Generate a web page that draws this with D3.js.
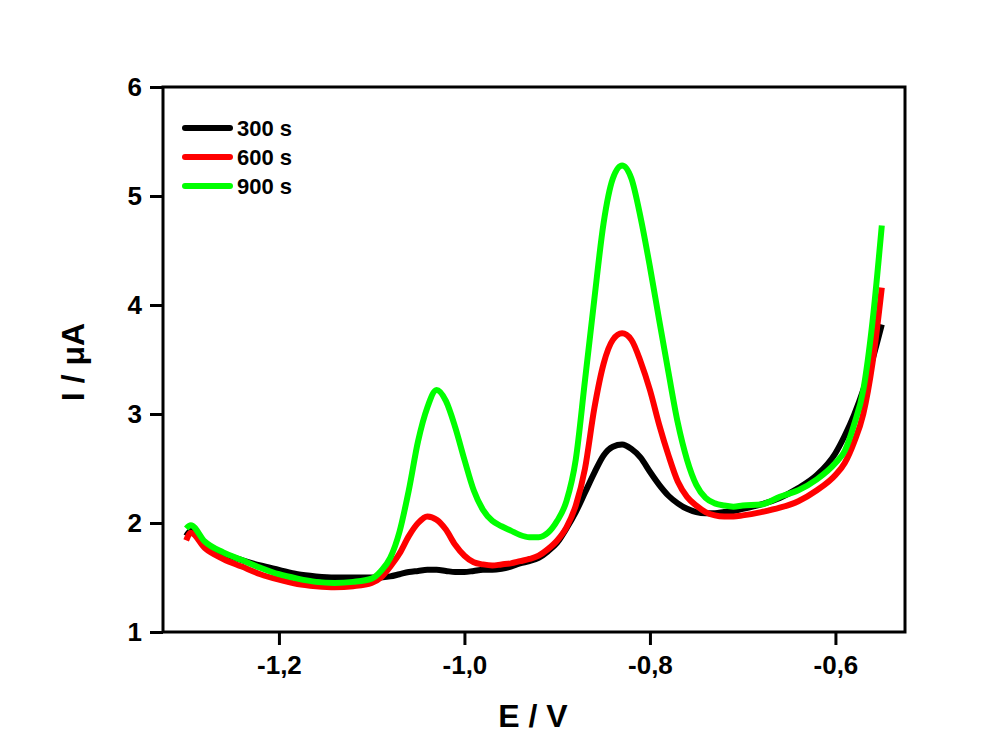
<!DOCTYPE html>
<html lang="en">
<head>
<meta charset="utf-8" />
<title>I vs E</title>
<script src="https://cdn.jsdelivr.net/npm/d3@7"></script>
<style>
  body { margin: 0; background: #fff; }
  text { font-family: "Liberation Sans", Arial, sans-serif; font-weight: bold; }
</style>
</head>
<body>
<script>
// potential (V), shared by all three curves
var potential = [-1.30, -1.295, -1.28, -1.26, -1.24, -1.22, -1.20, -1.18, -1.16, -1.14, -1.12, -1.10,
  -1.09, -1.08, -1.07, -1.06, -1.05, -1.04, -1.03, -1.02, -1.01, -1.00, -0.99, -0.98, -0.97, -0.96,
  -0.95, -0.94, -0.93, -0.92, -0.91, -0.90, -0.89, -0.88, -0.87, -0.86, -0.85, -0.84, -0.83, -0.82,
  -0.81, -0.80, -0.79, -0.78, -0.77, -0.76, -0.75, -0.74, -0.73, -0.72, -0.71, -0.70, -0.68, -0.66,
  -0.64, -0.62, -0.60, -0.59, -0.58, -0.57, -0.56, -0.55];

// current (uA)
var i300 = [1.88, 1.93, 1.81, 1.72, 1.66, 1.61, 1.57, 1.53, 1.51, 1.50, 1.50, 1.50,
  1.50, 1.51, 1.53, 1.55, 1.56, 1.57, 1.57, 1.56, 1.55, 1.55, 1.56, 1.57, 1.57, 1.58,
  1.60, 1.63, 1.65, 1.68, 1.74, 1.82, 1.95, 2.10, 2.28, 2.46, 2.62, 2.70, 2.72, 2.68,
  2.60, 2.47, 2.35, 2.25, 2.18, 2.13, 2.10, 2.09, 2.09, 2.10, 2.11, 2.13, 2.17, 2.23,
  2.32, 2.44, 2.64, 2.80, 2.99, 3.22, 3.50, 3.82];

var i600 = [1.84, 1.91, 1.77, 1.67, 1.60, 1.53, 1.48, 1.44, 1.42, 1.41, 1.42, 1.45,
  1.50, 1.60, 1.72, 1.88, 2.00, 2.06, 2.03, 1.94, 1.80, 1.70, 1.64, 1.62, 1.61, 1.62,
  1.63, 1.65, 1.67, 1.70, 1.76, 1.84, 1.96, 2.16, 2.50, 3.05, 3.46, 3.68, 3.74, 3.68,
  3.48, 3.22, 2.90, 2.62, 2.38, 2.24, 2.16, 2.10, 2.07, 2.06, 2.06, 2.07, 2.10, 2.14,
  2.20, 2.30, 2.44, 2.55, 2.74, 3.00, 3.47, 4.16];

var i900 = [1.95, 1.98, 1.83, 1.73, 1.66, 1.59, 1.53, 1.49, 1.46, 1.45, 1.46, 1.49,
  1.56, 1.68, 1.92, 2.30, 2.75, 3.06, 3.22, 3.12, 2.88, 2.58, 2.30, 2.12, 2.02, 1.97,
  1.93, 1.89, 1.87, 1.87, 1.91, 2.02, 2.20, 2.58, 3.31, 4.05, 4.75, 5.16, 5.28, 5.16,
  4.80, 4.35, 3.86, 3.38, 2.92, 2.58, 2.35, 2.23, 2.18, 2.16, 2.15, 2.16, 2.17, 2.24,
  2.30, 2.40, 2.55, 2.66, 2.90, 3.22, 3.85, 4.73];

var seriesNames = ["300 s", "600 s", "900 s"];
var seriesColors = ["#000000", "#ff0000", "#00ff00"];
var seriesValues = [i300, i600, i900];

var xTicks = [-1.2, -1.0, -0.8, -0.6];
var yTicks = [1, 2, 3, 4, 5, 6];

var w = 1000, h = 750;
var margin = {top: 87, right: 95, bottom: 118, left: 163};

var svg = d3.select("body").append("svg")
  .attr("width", w)
  .attr("height", h);

var x = d3.scaleLinear()
  .domain([-1.325, -0.525])
  .range([margin.left, w - margin.right]);

var y = d3.scaleLinear()
  .domain([1, 6])
  .range([h - margin.bottom, margin.top]);

var fmtX = function(d) { return d.toFixed(1).replace(".", ","); };

// frame
svg.append("rect")
  .attr("x", margin.left)
  .attr("y", margin.top)
  .attr("width", w - margin.left - margin.right)
  .attr("height", h - margin.top - margin.bottom)
  .attr("fill", "none")
  .attr("stroke", "#000")
  .attr("stroke-width", 3);

var xAxis = svg.append("g")
  .attr("transform", "translate(0," + (h - margin.bottom) + ")")
  .call(d3.axisBottom(x).tickValues(xTicks).tickFormat(fmtX).tickSize(13).tickPadding(11));

var yAxis = svg.append("g")
  .attr("transform", "translate(" + margin.left + ",0)")
  .call(d3.axisLeft(y).tickValues(yTicks).tickFormat(d3.format("d")).tickSize(13).tickPadding(8));

[xAxis, yAxis].forEach(function(g) {
  g.select(".domain").remove();
  g.selectAll(".tick line").attr("stroke", "#000").attr("stroke-width", 3);
  g.selectAll(".tick text")
    .attr("fill", "#000")
    .attr("font-size", "26px")
    .attr("font-family", "'Liberation Sans', Arial, sans-serif")
    .attr("font-weight", "bold");
});

// axis titles
svg.append("text")
  .attr("x", 533)
  .attr("y", 727)
  .attr("text-anchor", "middle")
  .attr("font-size", "32px")
  .text("E / V");

svg.append("text")
  .attr("transform", "translate(84,362) rotate(-90)")
  .attr("text-anchor", "middle")
  .attr("font-size", "32px")
  .text("I / μA");

// curves
var line = d3.line()
  .x(function(d) { return x(d[0]); })
  .y(function(d) { return y(d[1]); })
  .curve(d3.curveMonotoneX);

seriesValues.forEach(function(vals, k) {
  svg.append("path")
    .datum(potential.map(function(p, i) { return [p, vals[i]]; }))
    .attr("fill", "none")
    .attr("stroke", seriesColors[k])
    .attr("stroke-width", 6)
    .attr("stroke-linejoin", "round")
    .attr("d", line);
});

// legend
var legend = svg.append("g");
seriesNames.forEach(function(name, k) {
  var ly = 128 + k * 29;
  legend.append("line")
    .attr("x1", 185).attr("x2", 230)
    .attr("y1", ly).attr("y2", ly)
    .attr("stroke", seriesColors[k])
    .attr("stroke-width", 6)
    .attr("stroke-linecap", "round");
  legend.append("text")
    .attr("x", 237)
    .attr("y", ly + 8)
    .attr("font-size", "22px")
    .text(name);
});
</script>
</body>
</html>
